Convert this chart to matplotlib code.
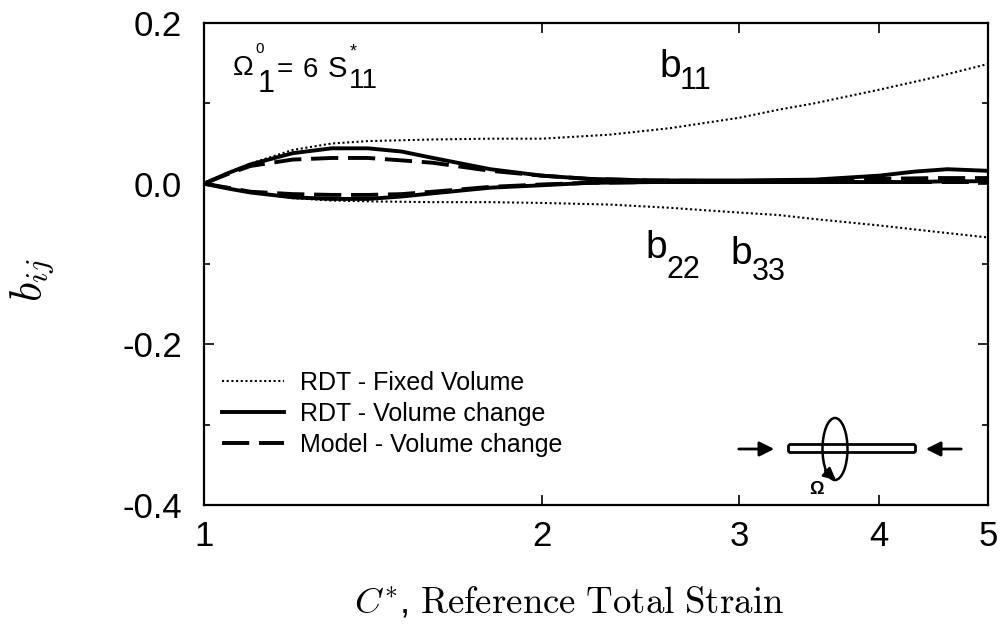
"""
b_ij vs reference total strain, scanned figure
"""
import numpy as np
from matplotlib import pyplot as plt
from matplotlib.patches import Ellipse, FancyBboxPatch

plt.rcParams['font.family'] = ['Liberation Sans', 'DejaVu Sans']
plt.rcParams['mathtext.fontset'] = 'cm'

# values
c_fixed = [1, 1.05, 1.1, 1.2, 1.3, 1.4, 1.6, 1.8, 2, 2.3, 2.6, 3, 3.25, 3.5, 4, 4.5, 5]
b11_fixed = [0, 0.013, 0.025, 0.042, 0.05, 0.053, 0.055, 0.056, 0.056, 0.061, 0.069, 0.082, 0.092, 0.1, 0.117, 0.133, 0.149]
b22_fixed = [0, -0.006, -0.011, -0.018, -0.021, -0.022, -0.023, -0.023, -0.024, -0.026, -0.03, -0.036, -0.039, -0.044, -0.052, -0.06, -0.067]

c_rdt = [1, 1.05, 1.1, 1.2, 1.3, 1.4, 1.5, 1.6, 1.8, 2, 2.2, 2.5, 3, 3.5, 4, 4.3, 4.6, 5]
b11_rdt = [0, 0.013, 0.024, 0.038, 0.044, 0.044, 0.04, 0.032, 0.018, 0.01, 0.006, 0.004, 0.004, 0.005, 0.01, 0.015, 0.018, 0.016]
b22_rdt = [0, -0.006, -0.011, -0.017, -0.019, -0.019, -0.016, -0.012, -0.005, -0.002, 0.001, 0.002, 0.002, 0.002, 0.002, 0.002, 0.003, 0.003]

c_model = [1, 1.05, 1.1, 1.2, 1.3, 1.4, 1.5, 1.6, 1.8, 2, 2.2, 2.5, 3, 3.5, 4, 4.5, 5]
b11_model = [0, 0.012, 0.022, 0.03, 0.032, 0.032, 0.029, 0.026, 0.016, 0.01, 0.006, 0.004, 0.003, 0.004, 0.006, 0.007, 0.007]
b22_model = [0, -0.005, -0.01, -0.013, -0.014, -0.014, -0.013, -0.01, -0.004, -0.001, 0.001, 0.002, 0.002, 0.002, 0.002, 0.002, 0.002]

x_ticks = [1, 2, 3, 4, 5]
y_ticks = [-0.4, -0.2, 0.0, 0.2]
y_minor = [-0.3, -0.1, 0.1]

fig = plt.figure(figsize=(10, 6.33), dpi=100)
ax = fig.add_axes([204/1000, 1 - 505/633, 784/1000, 482/633])

ax.plot(c_fixed, b11_fixed, color='k', lw=1.5, ls=(0, (1, 1.25)), label='RDT - Fixed Volume')
ax.plot(c_rdt, b11_rdt, color='k', lw=2.8, label='RDT - Volume change')
ax.plot(c_model, b11_model, color='k', lw=2.8, ls=(0, (7, 2.5)), label='Model - Volume change')
ax.plot(c_fixed, b22_fixed, color='k', lw=1.5, ls=(0, (1, 1.25)))
ax.plot(c_rdt, b22_rdt, color='k', lw=2.8)
ax.plot(c_model, b22_model, color='k', lw=2.8, ls=(0, (7, 2.5)))

ax.set_xscale('log')
ax.set_xlim(1, 5)
ax.set_ylim(-0.4, 0.2)
ax.set_xticks(x_ticks)
ax.set_xticklabels([str(t) for t in x_ticks])
ax.set_xticks([], minor=True)
ax.set_yticks(y_ticks)
ax.set_yticklabels(['-0.4', '-0.2', '0.0', '0.2'])
ax.set_yticks(y_minor, minor=True)
ax.tick_params(which='major', direction='in', top=True, right=True, length=7, width=1.2, labelsize=25)
ax.tick_params(axis='y', which='major', pad=16)
ax.tick_params(axis='x', which='major', pad=11)
ax.tick_params(which='minor', direction='in', right=True, length=4.5, width=1.2)
for s in ax.spines.values():
    s.set_linewidth(1.6)

ax.legend(loc='lower left', bbox_to_anchor=(0.023, 0.1), frameon=False, fontsize=18,
          handlelength=2.48, handletextpad=0.64, labelspacing=0.28, borderpad=0, borderaxespad=0)

# overlay in picture pixels for the labels and the little sketch
ov = fig.add_axes([0, 0, 1, 1])
ov.set_xlim(0, 1000)
ov.set_ylim(633, 0)
ov.axis('off')
ov.patch.set_alpha(0)

ov.text(32, 280, r'$b_{ij}$', fontsize=32, rotation=90, ha='center', va='center')
ov.text(569, 603, r'$C^{*}$, $\mathrm{Reference\ Total\ Strain}$', fontsize=26.5, ha='center', va='center')

ov.text(233, 75, '\u03a9', fontsize=20, ha='left', va='baseline')
ov.text(255, 53, '0', fontsize=11, ha='left', va='baseline')
ov.text(258, 92, '1', fontsize=22, ha='left', va='baseline')
ov.text(277, 77, '=', fontsize=20, ha='left', va='baseline')
ov.text(303, 77, '6', fontsize=20, ha='left', va='baseline')
ov.text(328, 77, 'S', fontsize=21, ha='left', va='baseline')
ov.text(350, 56, '*', fontsize=13, ha='left', va='baseline')
ov.text(349, 88, '11', fontsize=20, ha='left', va='baseline')

ov.text(659, 77, 'b', fontsize=28, ha='left', va='baseline')
ov.text(680, 89, '11', fontsize=22, ha='left', va='baseline')
ov.text(645, 258, 'b', fontsize=28, ha='left', va='baseline')
ov.text(667, 278, '22', fontsize=22, ha='left', va='baseline')
ov.text(730, 264, 'b', fontsize=28, ha='left', va='baseline')
ov.text(752, 280, '33', fontsize=22, ha='left', va='baseline')

ov.add_patch(FancyBboxPatch((790, 446), 124, 5, boxstyle='round,pad=1.5,rounding_size=2',
                            fc='white', ec='k', lw=2, zorder=2))
ov.add_patch(Ellipse((835, 449), 25, 62, fc='none', ec='k', lw=1.8, zorder=3))
ov.annotate('', xy=(777, 449), xytext=(736, 449), arrowprops=dict(arrowstyle='-|>', color='k', lw=2, mutation_scale=22))
ov.annotate('', xy=(923, 449), xytext=(964, 449), arrowprops=dict(arrowstyle='-|>', color='k', lw=2, mutation_scale=22))
ov.annotate('', xy=(838, 482), xytext=(823, 469), arrowprops=dict(arrowstyle='-|>', color='k', lw=1.8, mutation_scale=18))
ov.text(816, 489, '\u03a9', fontsize=13, fontweight='bold', ha='center', va='center')

fig.savefig('out.png', dpi=100)
